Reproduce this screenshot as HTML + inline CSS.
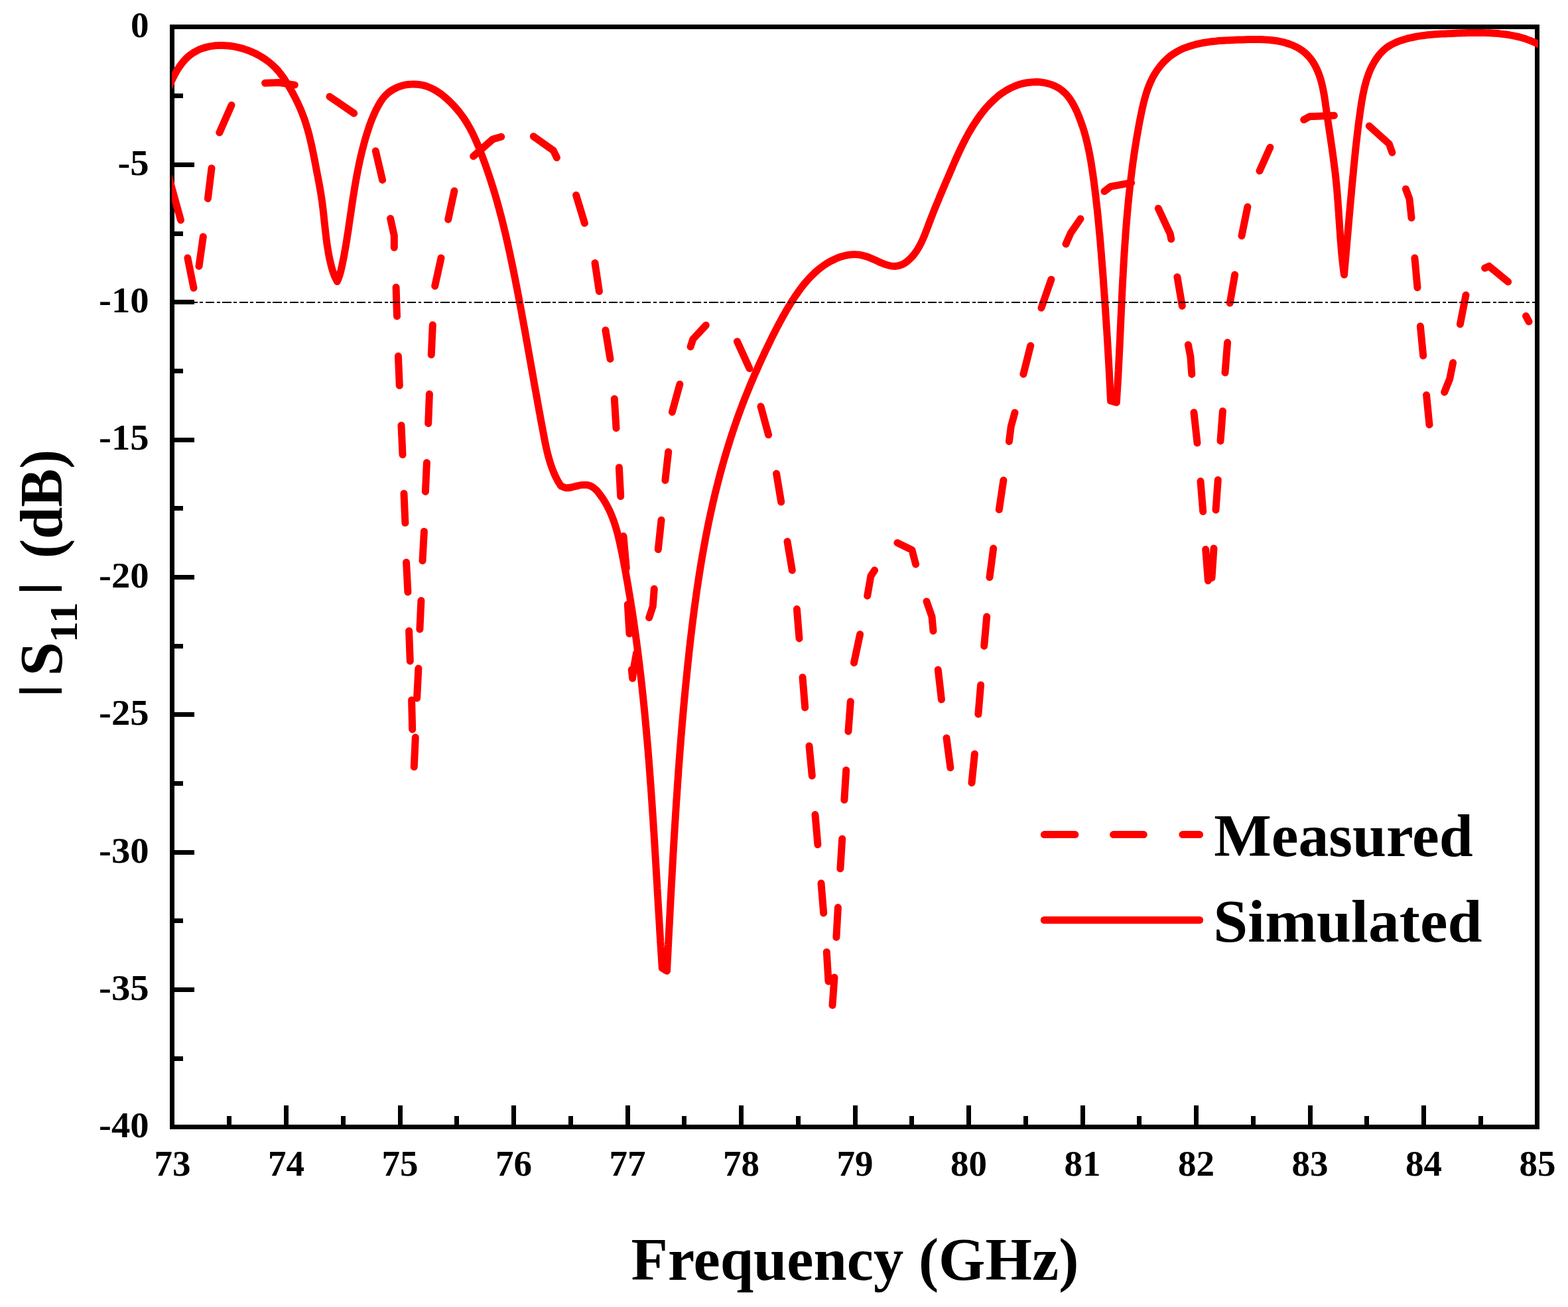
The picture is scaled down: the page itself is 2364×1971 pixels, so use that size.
<!DOCTYPE html>
<html lang="en">
<head>
<meta charset="utf-8">
<title>|S11| (dB) versus Frequency (GHz)</title>
<style>
html,body{margin:0;padding:0;background:#fff;}
body{width:2364px;height:1971px;overflow:hidden;}
svg{display:block;}
text{font-family:"Liberation Serif",serif;font-weight:bold;fill:#000;}
.tk{font-size:55px;}
.tt{font-size:90px;}
</style>
</head>
<body>
<svg xmlns="http://www.w3.org/2000/svg" width="2364" height="1971" viewBox="0 0 2364 1971">
<rect x="0" y="0" width="2364" height="1971" fill="#fff"/>
<defs><clipPath id="plotclip"><rect x="259" y="40" width="2060" height="1660"/></clipPath></defs>
<g fill="none" stroke="#000" stroke-width="7" shape-rendering="crispEdges">
<rect x="259.5" y="40.5" width="2058.0" height="1659.0"/>
<path d="M345.5,1683V1697M431.5,1667V1697M517.5,1683V1697M603.5,1667V1697M688.5,1683V1697M774.5,1667V1697M860.5,1683V1697M946.5,1667V1697M1031.5,1683V1697M1117.5,1667V1697M1203.5,1683V1697M1289.5,1667V1697M1374.5,1683V1697M1460.5,1667V1697M1546.5,1683V1697M1632.5,1667V1697M1717.5,1683V1697M1803.5,1667V1697M1889.5,1683V1697M1975.5,1667V1697M2060.5,1683V1697M2146.5,1667V1697M2232.5,1683V1697M262,144.5H276M262,248.5H293M262,352.5H276M262,455.5H293M262,559.5H276M262,663.5H293M262,766.5H276M262,870.5H293M262,974.5H276M262,1077.5H293M262,1181.5H276M262,1285.5H293M262,1388.5H276M262,1492.5H293M262,1596.5H276"/>
</g>
<g fill="none" stroke="#ff0000" stroke-width="11" stroke-linecap="round" stroke-linejoin="round">
<g clip-path="url(#plotclip)">
<path d="M250,251L272.5,331.9M282.9,389L292,434.3M300,401.4L306.3,357M313.4,299.4L319,253.7M330.9,200L349,158.6M399.5,125.2L421,124.6L444.3,128.1M497,145.7L533.7,170.9M566.3,227.7L576.6,271.4M588.6,329.5L594.3,355.2L594.3,373.3M597.1,433.3L598.5,477.1M600.4,537.1L602.3,581.5M605,641.4L607,685.7M609,744.3L610.9,788.6M612.6,848L614.9,892.9M616.6,951.4L618.3,997M620.6,1055.7L621.7,1100M624.3,1156.6L626.3,1112M628.6,1052.9L630.9,1008M632.9,949L634.9,905.7M637,845.7L639.4,801.4M641.4,741.4L643.4,697.7M645.7,638.6L647.4,594.3M650.3,535L652.3,490M655.7,431.4L665,389M675.7,330.9L684.9,288M713.7,235.7L742.9,210L755.7,206.3M804.3,205.7L834.3,227L839.4,237.7M868.6,294.3L881.4,336.6M897,396.6L903.4,439.4M912.9,498L920,541.4M926.3,601.4L929,645.7M933.4,704.9L935.7,748.6M940,808.6L944.3,857M946.3,911.4L949,955.7M952.3,1010L953.6,1023L955,1010L959.5,985M978.6,931.4L984.3,914.3L986.3,888M992.3,828.6L997,784.3M1002.9,724.3L1007.7,681.4M1013.4,621.4L1024.9,579.4M1041,522.9L1044.8,511.4L1064.3,490.4M1111.4,514.9L1130,555.7M1147,612.9L1158.6,655.7M1170.6,714.3L1177.7,757M1187,816.6L1194.3,860M1201.4,918.6L1205,962.9M1210,1021.4L1213.7,1067M1220,1124.9L1224.3,1170M1229,1228.6L1232.9,1273.7M1238,1332L1241.7,1377M1246.3,1435.7L1249,1480M1255,1516L1258,1474M1260.9,1413.4L1263.4,1368.6M1266.9,1310L1269.7,1265M1272.9,1206.3L1275.7,1161.4M1279,1102.9L1282.3,1058M1287.5,999.5L1296.6,956.6M1307.7,898.6L1312.9,868.6L1318.6,860M1352.9,818.6L1374.9,829.4L1380.6,850.9M1397,907L1405,930L1407,951.4M1414.3,1010L1419.4,1054.9M1427,1112.9L1432.9,1157.7M1465,1180.6L1469.4,1137M1474.9,1077L1478.6,1032.9M1483.7,974.3L1487.7,930M1492,870.6L1497.7,827M1506.3,768.6L1512.9,724.3M1521.4,665.7L1524.3,642.9L1530,622.3M1542.9,564.3L1553.7,521.4M1570,464.3L1584.9,421.4M1607,368L1614.3,351.4L1629,330M1665,288.6L1674.3,281.4L1705.7,275.7M1746.3,314.3L1764.3,352.9L1765.7,360.6M1774.9,417.7L1782.3,461.4M1791.4,520L1794.9,538.1L1796.8,564.4M1800,622L1805,668M1810,725.7L1813.7,771.4M1817.7,828.6L1821.4,875.7M1827,871.4L1830,827M1833,769L1836.3,723.7M1840,665L1843.4,620M1847,562L1850.6,516.6M1854.3,457L1861.7,414.3M1872,355.7L1880.9,312M1899,257.7L1914.9,222.3M1965.7,180.6L1974.3,175.7L2011.4,174.3M2064.3,190L2094.3,217L2098.9,230M2119.4,285L2125,300L2128,328.6M2132.9,389L2137,433.7M2141.4,492L2145.7,536.6M2150.6,595.7L2155,640.6M2177.7,591.4L2185.7,571.4L2190.6,547M2201.4,489L2210,445M2238.6,404.3L2245,401.4L2273.7,425M2300.6,476.6L2305,485"/>
<path d="M251,140C251.5,138.8 252.9,135.2 253.9,132.8C254.9,130.3 256,127.8 257.1,125.4C258.2,122.9 259.4,120.4 260.6,117.9C261.8,115.5 263.1,113 264.4,110.6C265.7,108.2 267.1,105.8 268.6,103.5C270.1,101.2 271.6,98.9 273.3,96.8C274.9,94.6 276.6,92.5 278.4,90.6C280.2,88.6 282.1,86.7 284.1,85C286.1,83.3 288.2,81.7 290.4,80.2C292.6,78.8 294.9,77.5 297.3,76.3C299.7,75.1 302.1,74.1 304.6,73.2C307.1,72.3 309.7,71.5 312.3,70.9C314.9,70.2 317.6,69.7 320.2,69.4C322.9,69 325.6,68.7 328.3,68.6C331,68.4 333.7,68.4 336.4,68.5C339.1,68.6 341.8,68.8 344.6,69C347.3,69.3 350,69.7 352.7,70.2C355.3,70.7 358,71.3 360.7,71.9C363.3,72.6 365.9,73.3 368.5,74.1C371.1,75 373.7,75.9 376.2,76.8C378.7,77.8 381.2,78.9 383.6,80C386,81.2 388.4,82.4 390.7,83.7C393.1,85 395.4,86.4 397.6,87.9C399.8,89.3 402,90.9 404.1,92.5C406.2,94.1 408.3,95.8 410.2,97.6C412.2,99.3 414.1,101.2 416,103.1C417.8,105 419.6,107 421.3,109.1C422.9,111.2 424.6,113.3 426.1,115.5C427.7,117.7 429.2,120 430.6,122.3C432.1,124.5 433.5,126.9 434.9,129.2C436.3,131.5 437.6,133.9 439,136.2C440.3,138.6 441.6,141 442.9,143.4C444.1,145.7 445.4,148.1 446.6,150.6C447.8,153 448.9,155.4 450,157.8C451.2,160.3 452.3,162.7 453.3,165.2C454.4,167.7 455.4,170.2 456.3,172.7C457.3,175.2 458.2,177.7 459.1,180.2C459.9,182.8 460.8,185.3 461.6,187.9C462.4,190.4 463.1,193 463.9,195.6C464.6,198.2 465.3,200.7 466,203.3C466.6,205.9 467.3,208.6 467.9,211.2C468.5,213.8 469.1,216.4 469.7,219C470.3,221.7 470.9,224.3 471.4,226.9C472,229.6 472.5,232.2 473,234.9C473.6,237.5 474.1,240.1 474.6,242.8C475.1,245.4 475.6,248.1 476.1,250.7C476.6,253.4 477.1,256 477.6,258.7C478.1,261.3 478.6,263.9 479.2,266.6C479.7,269.2 480.2,271.9 480.7,274.5C481.2,277.1 481.6,279.8 482.1,282.4C482.6,285 483,287.7 483.5,290.3C483.9,293 484.3,295.6 484.7,298.3C485.1,301 485.5,303.6 485.9,306.3C486.2,309 486.5,311.6 486.9,314.3C487.2,317 487.5,319.7 487.8,322.3C488.1,325 488.4,327.7 488.6,330.4C488.9,333.1 489.2,335.8 489.5,338.5C489.8,341.1 490.1,343.8 490.4,346.5C490.7,349.2 491,351.9 491.3,354.5C491.6,357.2 491.9,359.9 492.3,362.6C492.6,365.2 493,367.9 493.4,370.6C493.8,373.2 494.2,375.9 494.7,378.5C495.1,381.2 495.6,383.8 496.1,386.4C496.6,389.1 497.2,391.7 497.8,394.3C498.4,396.9 499,399.5 499.7,402.1C500.4,404.7 501.1,407.2 502,409.8C502.8,412.3 503.7,414.8 504.8,417.3C505.9,419.7 507.8,423.3 508.4,424.5C508.9,423.3 510.4,419.6 511.3,417.1C512.2,414.6 512.9,412 513.6,409.5C514.3,406.9 514.8,404.3 515.4,401.7C516,399.1 516.5,396.5 517,393.9C517.6,391.2 518.1,388.6 518.6,386C519.1,383.4 519.5,380.7 520,378.1C520.5,375.5 520.9,372.8 521.4,370.2C521.8,367.5 522.3,364.9 522.7,362.3C523.1,359.6 523.5,357 523.9,354.3C524.4,351.7 524.8,349 525.2,346.4C525.6,343.7 526,341.1 526.3,338.4C526.7,335.8 527.1,333.1 527.5,330.5C527.9,327.8 528.3,325.2 528.7,322.5C529.1,319.9 529.5,317.2 529.8,314.6C530.2,311.9 530.6,309.3 531,306.6C531.4,304 531.8,301.3 532.2,298.7C532.6,296 533.1,293.4 533.5,290.8C533.9,288.1 534.3,285.5 534.8,282.8C535.2,280.2 535.6,277.6 536.1,275C536.6,272.3 537,269.7 537.5,267.1C538,264.5 538.5,261.8 539,259.2C539.5,256.6 540,254 540.6,251.4C541.1,248.8 541.6,246.2 542.2,243.6C542.8,240.9 543.4,238.3 544,235.7C544.6,233.2 545.2,230.6 545.8,228C546.5,225.4 547.1,222.8 547.8,220.2C548.5,217.6 549.2,215.1 549.9,212.5C550.6,209.9 551.4,207.3 552.2,204.8C552.9,202.2 553.7,199.6 554.6,197.1C555.4,194.5 556.2,192 557.1,189.4C558,186.9 559,184.4 559.9,181.9C560.9,179.4 561.9,176.9 563,174.4C564.1,171.9 565.2,169.4 566.3,167C567.5,164.6 568.7,162.1 570.1,159.7C571.4,157.4 572.7,155 574.2,152.7C575.7,150.5 577.3,148.3 579,146.3C580.7,144.3 582.6,142.4 584.6,140.6C586.5,138.9 588.7,137.4 590.9,136C593.1,134.6 595.5,133.3 597.9,132.3C600.3,131.2 602.8,130.3 605.3,129.5C607.9,128.8 610.5,128.2 613.1,127.7C615.7,127.3 618.4,127 621.1,127C623.7,126.9 626.4,126.9 629.1,127.2C631.7,127.4 634.4,127.8 637,128.4C639.6,129 642.1,129.7 644.6,130.6C647.1,131.5 649.5,132.6 651.9,133.8C654.3,134.9 656.6,136.3 658.9,137.7C661.2,139.1 663.4,140.7 665.6,142.3C667.7,144 669.8,145.7 671.9,147.5C674,149.3 676,151.1 677.9,153C679.9,154.9 681.7,156.8 683.6,158.8C685.4,160.8 687.2,162.8 688.9,164.8C690.7,166.8 692.4,168.9 694,171C695.6,173.1 697.2,175.2 698.7,177.4C700.2,179.6 701.7,181.8 703.1,184.1C704.5,186.3 705.8,188.6 707.1,190.9C708.4,193.2 709.7,195.6 710.9,197.9C712.1,200.3 713.3,202.7 714.4,205.1C715.6,207.5 716.7,210 717.7,212.4C718.8,214.9 719.8,217.4 720.9,219.9C721.9,222.3 722.9,224.8 723.9,227.3C724.8,229.8 725.8,232.3 726.7,234.9C727.7,237.4 728.6,239.9 729.5,242.4C730.5,244.9 731.4,247.4 732.3,250C733.2,252.5 734.1,255 734.9,257.5C735.8,260.1 736.7,262.6 737.5,265.1C738.3,267.7 739.2,270.2 740,272.7C740.8,275.3 741.6,277.8 742.4,280.4C743.2,282.9 744,285.5 744.8,288C745.6,290.6 746.3,293.1 747.1,295.7C747.8,298.3 748.6,300.8 749.3,303.4C750,306 750.7,308.6 751.4,311.1C752.2,313.7 752.9,316.3 753.5,318.9C754.2,321.5 754.9,324 755.6,326.6C756.2,329.2 756.9,331.8 757.6,334.4C758.2,337 758.8,339.6 759.5,342.2C760.1,344.8 760.7,347.4 761.4,350C762,352.6 762.6,355.2 763.2,357.8C763.8,360.4 764.4,363 765,365.6C765.6,368.3 766.2,370.9 766.7,373.5C767.3,376.1 767.9,378.7 768.5,381.3C769,383.9 769.6,386.6 770.1,389.2C770.7,391.8 771.2,394.4 771.8,397C772.3,399.7 772.9,402.3 773.4,404.9C773.9,407.5 774.5,410.1 775,412.8C775.5,415.4 776.1,418 776.6,420.6C777.1,423.3 777.6,425.9 778.1,428.5C778.7,431.1 779.2,433.8 779.7,436.4C780.2,439 780.7,441.6 781.2,444.3C781.7,446.9 782.2,449.5 782.7,452.1C783.2,454.8 783.7,457.4 784.2,460C784.7,462.6 785.2,465.3 785.7,467.9C786.2,470.5 786.6,473.1 787.1,475.8C787.6,478.4 788.1,481 788.6,483.7C789.1,486.3 789.5,488.9 790,491.5C790.5,494.2 791,496.8 791.5,499.4C791.9,502.1 792.4,504.7 792.9,507.3C793.3,509.9 793.8,512.6 794.3,515.2C794.8,517.8 795.2,520.5 795.7,523.1C796.2,525.7 796.6,528.4 797.1,531C797.6,533.6 798,536.3 798.5,538.9C799,541.5 799.4,544.1 799.9,546.8C800.4,549.4 800.8,552 801.3,554.7C801.8,557.3 802.2,559.9 802.7,562.6C803.2,565.2 803.6,567.8 804.1,570.5C804.6,573.1 805,575.7 805.5,578.4C806,581 806.5,583.6 806.9,586.3C807.4,588.9 807.9,591.5 808.3,594.2C808.8,596.8 809.3,599.5 809.8,602.1C810.2,604.7 810.7,607.4 811.2,610C811.7,612.6 812.1,615.3 812.6,617.9C813.1,620.5 813.6,623.2 814.1,625.8C814.5,628.5 815,631.1 815.5,633.7C816,636.4 816.5,639 817,641.6C817.5,644.3 818,646.9 818.5,649.6C819,652.2 819.5,654.8 820,657.5C820.5,660.1 821,662.7 821.5,665.4C822,668 822.6,670.6 823.1,673.2C823.7,675.9 824.3,678.5 824.9,681.1C825.5,683.7 826.2,686.2 826.9,688.8C827.6,691.4 828.3,693.9 829.1,696.5C829.9,699 830.7,701.5 831.6,704C832.5,706.5 833.4,709 834.4,711.5C835.5,713.9 836.5,716.4 837.7,718.8C838.8,721.2 840,723.5 841.3,725.9C842.7,728.2 844.8,731.6 845.5,732.8C846.7,733.3 850.3,735.2 852.8,735.6C855.4,736 858,735.5 860.7,735.1C863.4,734.6 866.1,733.7 868.9,733.1C871.6,732.5 874.4,731.7 877.2,731.4C879.9,731.1 882.6,731 885.2,731.4C887.7,731.8 890.1,732.6 892.4,733.8C894.6,735 896.6,736.7 898.5,738.6C900.4,740.4 902.2,742.7 903.8,744.8C905.5,747 907.1,749.2 908.6,751.5C910.1,753.8 911.5,756.1 912.9,758.4C914.2,760.7 915.5,763.1 916.7,765.5C917.9,767.8 919.1,770.3 920.2,772.7C921.2,775.1 922.3,777.6 923.2,780.1C924.2,782.5 925.1,785 926,787.6C926.8,790.1 927.6,792.6 928.4,795.2C929.2,797.7 929.9,800.3 930.6,802.9C931.3,805.5 932,808.1 932.6,810.7C933.3,813.3 933.9,815.9 934.4,818.6C935,821.2 935.6,823.8 936.1,826.5C936.7,829.1 937.2,831.7 937.8,834.4C938.3,837 938.8,839.7 939.3,842.3C939.8,845 940.3,847.6 940.8,850.3C941.3,852.9 941.8,855.6 942.3,858.2C942.8,860.9 943.3,863.5 943.8,866.2C944.2,868.8 944.7,871.5 945.2,874.1C945.7,876.8 946.1,879.4 946.6,882.1C947,884.7 947.5,887.4 947.9,890.1C948.4,892.7 948.8,895.4 949.3,898C949.7,900.7 950.1,903.3 950.6,906C951,908.6 951.4,911.3 951.8,914C952.2,916.6 952.7,919.3 953.1,921.9C953.5,924.6 953.9,927.2 954.3,929.9C954.7,932.6 955.1,935.2 955.5,937.9C955.9,940.5 956.2,943.2 956.6,945.9C957,948.5 957.4,951.2 957.7,953.9C958.1,956.5 958.5,959.2 958.8,961.8C959.2,964.5 959.6,967.2 959.9,969.8C960.3,972.5 960.6,975.2 961,977.8C961.3,980.5 961.7,983.2 962,985.8C962.3,988.5 962.7,991.1 963,993.8C963.3,996.5 963.7,999.1 964,1001.8C964.3,1004.5 964.6,1007.2 964.9,1009.8C965.2,1012.5 965.6,1015.2 965.9,1017.8C966.2,1020.5 966.5,1023.2 966.8,1025.8C967.1,1028.5 967.4,1031.2 967.7,1033.8C968,1036.5 968.2,1039.2 968.5,1041.9C968.8,1044.5 969.1,1047.2 969.4,1049.9C969.7,1052.5 969.9,1055.2 970.2,1057.9C970.5,1060.6 970.8,1063.2 971,1065.9C971.3,1068.6 971.6,1071.2 971.8,1073.9C972.1,1076.6 972.3,1079.3 972.6,1081.9C972.8,1084.6 973.1,1087.3 973.3,1090C973.6,1092.6 973.8,1095.3 974.1,1098C974.3,1100.7 974.6,1103.3 974.8,1106C975,1108.7 975.3,1111.4 975.5,1114C975.7,1116.7 976,1119.4 976.2,1122.1C976.4,1124.7 976.6,1127.4 976.9,1130.1C977.1,1132.8 977.3,1135.5 977.5,1138.1C977.7,1140.8 978,1143.5 978.2,1146.2C978.4,1148.8 978.6,1151.5 978.8,1154.2C979,1156.9 979.2,1159.6 979.4,1162.2C979.6,1164.9 979.8,1167.6 980,1170.3C980.2,1173 980.4,1175.6 980.6,1178.3C980.8,1181 981,1183.7 981.2,1186.4C981.4,1189 981.6,1191.7 981.8,1194.4C982,1197.1 982.2,1199.8 982.3,1202.4C982.5,1205.1 982.7,1207.8 982.9,1210.5C983.1,1213.2 983.3,1215.8 983.4,1218.5C983.6,1221.2 983.8,1223.9 984,1226.6C984.2,1229.3 984.3,1231.9 984.5,1234.6C984.7,1237.3 984.9,1240 985,1242.7C985.2,1245.4 985.4,1248 985.5,1250.7C985.7,1253.4 985.9,1256.1 986.1,1258.8C986.2,1261.4 986.4,1264.1 986.6,1266.8C986.7,1269.5 986.9,1272.2 987.1,1274.9C987.2,1277.5 987.4,1280.2 987.5,1282.9C987.7,1285.6 987.9,1288.3 988,1291C988.2,1293.6 988.4,1296.3 988.5,1299C988.7,1301.7 988.8,1304.4 989,1307.1C989.2,1309.7 989.3,1312.4 989.5,1315.1C989.6,1317.8 989.8,1320.5 990,1323.2C990.1,1325.8 990.3,1328.5 990.4,1331.2C990.6,1333.9 990.8,1336.6 990.9,1339.3C991.1,1341.9 991.2,1344.6 991.4,1347.3C991.5,1350 991.7,1352.7 991.9,1355.4C992,1358 992.2,1360.7 992.3,1363.4C992.5,1366.1 992.7,1368.8 992.8,1371.5C993,1374.2 993.1,1376.8 993.3,1379.5C993.5,1382.2 993.6,1384.9 993.8,1387.6C993.9,1390.3 994.1,1392.9 994.3,1395.6C994.4,1398.3 994.6,1401 994.7,1403.7C994.9,1406.4 995.1,1409 995.2,1411.7C995.4,1414.4 995.6,1417.1 995.7,1419.8C995.9,1422.4 996.1,1425.1 996.2,1427.8C996.4,1430.5 996.6,1433.2 996.7,1435.9C996.9,1438.5 997.1,1441.2 997.3,1443.9C997.4,1446.6 997.6,1449.3 997.8,1452C997.9,1454.6 998.2,1458.7 998.3,1460L1005.5,1464.3C1005.6,1463 1005.8,1459 1005.9,1456.3C1006.1,1453.6 1006.2,1451 1006.3,1448.3C1006.5,1445.6 1006.6,1443 1006.8,1440.3C1006.9,1437.6 1007,1434.9 1007.2,1432.3C1007.3,1429.6 1007.4,1426.9 1007.6,1424.3C1007.7,1421.6 1007.9,1418.9 1008,1416.3C1008.1,1413.6 1008.3,1410.9 1008.4,1408.3C1008.6,1405.6 1008.7,1402.9 1008.8,1400.3C1009,1397.6 1009.1,1394.9 1009.3,1392.2C1009.4,1389.6 1009.5,1386.9 1009.7,1384.2C1009.8,1381.6 1010,1378.9 1010.1,1376.2C1010.2,1373.6 1010.4,1370.9 1010.5,1368.2C1010.7,1365.6 1010.8,1362.9 1010.9,1360.2C1011.1,1357.5 1011.2,1354.9 1011.4,1352.2C1011.5,1349.5 1011.7,1346.9 1011.8,1344.2C1011.9,1341.5 1012.1,1338.9 1012.2,1336.2C1012.4,1333.5 1012.5,1330.9 1012.7,1328.2C1012.8,1325.5 1013,1322.9 1013.1,1320.2C1013.3,1317.5 1013.4,1314.9 1013.6,1312.2C1013.7,1309.5 1013.9,1306.8 1014,1304.2C1014.2,1301.5 1014.3,1298.8 1014.5,1296.2C1014.6,1293.5 1014.8,1290.8 1014.9,1288.2C1015.1,1285.5 1015.2,1282.8 1015.4,1280.2C1015.5,1277.5 1015.7,1274.8 1015.8,1272.2C1016,1269.5 1016.2,1266.8 1016.3,1264.2C1016.5,1261.5 1016.6,1258.8 1016.8,1256.2C1017,1253.5 1017.1,1250.8 1017.3,1248.2C1017.4,1245.5 1017.6,1242.8 1017.8,1240.1C1017.9,1237.5 1018.1,1234.8 1018.3,1232.1C1018.4,1229.5 1018.6,1226.8 1018.8,1224.1C1019,1221.5 1019.1,1218.8 1019.3,1216.1C1019.5,1213.5 1019.6,1210.8 1019.8,1208.1C1020,1205.5 1020.2,1202.8 1020.4,1200.1C1020.5,1197.5 1020.7,1194.8 1020.9,1192.1C1021.1,1189.5 1021.3,1186.8 1021.4,1184.2C1021.6,1181.5 1021.8,1178.8 1022,1176.2C1022.2,1173.5 1022.4,1170.8 1022.6,1168.2C1022.8,1165.5 1022.9,1162.8 1023.1,1160.2C1023.3,1157.5 1023.5,1154.8 1023.7,1152.2C1023.9,1149.5 1024.1,1146.8 1024.3,1144.2C1024.5,1141.5 1024.7,1138.8 1024.9,1136.2C1025.1,1133.5 1025.3,1130.9 1025.5,1128.2C1025.8,1125.5 1026,1122.9 1026.2,1120.2C1026.4,1117.5 1026.6,1114.9 1026.8,1112.2C1027,1109.5 1027.2,1106.9 1027.5,1104.2C1027.7,1101.6 1027.9,1098.9 1028.1,1096.2C1028.4,1093.6 1028.6,1090.9 1028.8,1088.2C1029,1085.6 1029.3,1082.9 1029.5,1080.3C1029.7,1077.6 1030,1074.9 1030.2,1072.3C1030.4,1069.6 1030.7,1066.9 1030.9,1064.3C1031.2,1061.6 1031.4,1059 1031.6,1056.3C1031.9,1053.6 1032.1,1051 1032.4,1048.3C1032.6,1045.7 1032.9,1043 1033.1,1040.3C1033.4,1037.7 1033.6,1035 1033.9,1032.4C1034.2,1029.7 1034.4,1027 1034.7,1024.4C1035,1021.7 1035.2,1019.1 1035.5,1016.4C1035.8,1013.7 1036,1011.1 1036.3,1008.4C1036.6,1005.8 1036.9,1003.1 1037.1,1000.5C1037.4,997.8 1037.7,995.1 1038,992.5C1038.3,989.8 1038.6,987.2 1038.8,984.5C1039.1,981.9 1039.4,979.2 1039.7,976.5C1040,973.9 1040.3,971.2 1040.6,968.6C1040.9,965.9 1041.2,963.3 1041.5,960.6C1041.8,957.9 1042.2,955.3 1042.5,952.6C1042.8,950 1043.1,947.3 1043.4,944.7C1043.8,942 1044.1,939.4 1044.4,936.7C1044.7,934.1 1045.1,931.4 1045.4,928.8C1045.8,926.1 1046.1,923.5 1046.4,920.8C1046.8,918.2 1047.1,915.5 1047.5,912.9C1047.9,910.2 1048.2,907.6 1048.6,904.9C1049,902.3 1049.3,899.6 1049.7,897C1050.1,894.3 1050.4,891.7 1050.8,889C1051.2,886.4 1051.6,883.8 1052,881.1C1052.4,878.5 1052.8,875.8 1053.2,873.2C1053.6,870.5 1054,867.9 1054.4,865.3C1054.8,862.6 1055.3,860 1055.7,857.4C1056.1,854.7 1056.6,852.1 1057,849.4C1057.4,846.8 1057.9,844.2 1058.3,841.5C1058.8,838.9 1059.2,836.3 1059.7,833.7C1060.2,831 1060.6,828.4 1061.1,825.8C1061.6,823.1 1062.1,820.5 1062.6,817.9C1063,815.3 1063.5,812.6 1064,810C1064.5,807.4 1065.1,804.8 1065.6,802.1C1066.1,799.5 1066.6,796.9 1067.1,794.3C1067.7,791.7 1068.2,789 1068.7,786.4C1069.3,783.8 1069.8,781.2 1070.4,778.6C1071,776 1071.5,773.4 1072.1,770.8C1072.7,768.1 1073.3,765.5 1073.9,762.9C1074.4,760.3 1075,757.7 1075.6,755.1C1076.3,752.5 1076.9,749.9 1077.5,747.3C1078.1,744.7 1078.7,742.1 1079.4,739.5C1080,736.9 1080.7,734.3 1081.3,731.7C1082,729.1 1082.6,726.5 1083.3,724C1084,721.4 1084.7,718.8 1085.3,716.2C1086,713.6 1086.7,711 1087.4,708.5C1088.1,705.9 1088.9,703.3 1089.6,700.7C1090.3,698.2 1091,695.6 1091.8,693C1092.5,690.4 1093.3,687.9 1094,685.3C1094.8,682.8 1095.6,680.2 1096.3,677.6C1097.1,675.1 1097.9,672.5 1098.7,670C1099.5,667.4 1100.3,664.9 1101.1,662.3C1101.9,659.8 1102.7,657.2 1103.6,654.7C1104.4,652.2 1105.3,649.6 1106.1,647.1C1107,644.6 1107.8,642 1108.7,639.5C1109.6,637 1110.4,634.5 1111.3,631.9C1112.2,629.4 1113.1,626.9 1114,624.4C1115,621.9 1115.9,619.4 1116.8,616.9C1117.7,614.4 1118.7,611.9 1119.6,609.4C1120.6,606.9 1121.6,604.4 1122.5,601.9C1123.5,599.4 1124.5,596.9 1125.5,594.5C1126.5,592 1127.5,589.5 1128.5,587C1129.5,584.6 1130.5,582.1 1131.5,579.6C1132.6,577.2 1133.6,574.7 1134.7,572.2C1135.7,569.8 1136.8,567.3 1137.8,564.9C1138.9,562.4 1140,560 1141.1,557.6C1142.1,555.1 1143.2,552.7 1144.3,550.2C1145.4,547.8 1146.5,545.4 1147.7,542.9C1148.8,540.5 1149.9,538.1 1151,535.7C1152.2,533.2 1153.3,530.8 1154.4,528.4C1155.6,526 1156.7,523.6 1157.9,521.2C1159.1,518.8 1160.2,516.4 1161.4,514C1162.6,511.5 1163.7,509.2 1164.9,506.8C1166.1,504.4 1167.3,502 1168.6,499.6C1169.8,497.2 1171,494.8 1172.2,492.5C1173.5,490.1 1174.7,487.7 1176,485.4C1177.3,483 1178.5,480.7 1179.8,478.3C1181.1,476 1182.5,473.7 1183.8,471.4C1185.1,469 1186.5,466.7 1187.8,464.4C1189.2,462.1 1190.6,459.9 1192,457.6C1193.4,455.3 1194.9,453 1196.3,450.8C1197.8,448.5 1199.2,446.3 1200.8,444.1C1202.3,441.9 1203.8,439.7 1205.4,437.5C1207,435.4 1208.6,433.2 1210.2,431.1C1211.8,429 1213.5,427 1215.3,425C1217,422.9 1218.7,421 1220.6,419C1222.4,417.1 1224.2,415.2 1226.1,413.4C1228.1,411.5 1230,409.7 1232,408C1234.1,406.3 1236.1,404.6 1238.3,403C1240.4,401.4 1242.6,399.9 1244.9,398.4C1247.1,396.9 1249.5,395.5 1251.9,394.2C1254.2,392.9 1256.7,391.7 1259.2,390.6C1261.7,389.4 1264.2,388.4 1266.8,387.5C1269.4,386.6 1272,385.9 1274.6,385.3C1277.2,384.7 1279.8,384.2 1282.4,384C1285,383.7 1287.6,383.6 1290.2,383.8C1292.7,383.9 1295.3,384.2 1297.8,384.7C1300.4,385.2 1302.9,385.9 1305.4,386.6C1307.9,387.4 1310.4,388.3 1312.9,389.3C1315.4,390.3 1317.9,391.5 1320.5,392.6C1323,393.7 1325.5,395 1328.1,396.1C1330.7,397.2 1333.2,398.3 1335.8,399.1C1338.4,400 1341,400.7 1343.6,401.1C1346.2,401.5 1348.9,401.6 1351.4,401.3C1354,401.1 1356.5,400.4 1358.9,399.4C1361.3,398.5 1363.6,397.1 1365.8,395.6C1368,394.1 1370,392.3 1371.9,390.4C1373.9,388.6 1375.6,386.6 1377.3,384.6C1379,382.6 1380.5,380.4 1382,378.2C1383.5,376 1384.8,373.7 1386.1,371.4C1387.4,369.1 1388.6,366.7 1389.7,364.3C1390.9,361.8 1391.9,359.4 1393,356.9C1394,354.4 1395,351.8 1396,349.3C1397,346.8 1397.9,344.2 1398.9,341.7C1399.9,339.1 1400.8,336.6 1401.8,334.1C1402.7,331.5 1403.7,329 1404.7,326.5C1405.7,324 1406.7,321.5 1407.6,319C1408.6,316.5 1409.6,314.1 1410.6,311.6C1411.6,309.1 1412.7,306.7 1413.7,304.2C1414.7,301.7 1415.7,299.3 1416.7,296.8C1417.7,294.4 1418.8,291.9 1419.8,289.5C1420.8,287.1 1421.9,284.6 1422.9,282.2C1423.9,279.7 1425,277.3 1426,274.8C1427.1,272.4 1428.1,270 1429.2,267.5C1430.2,265.1 1431.3,262.6 1432.3,260.2C1433.4,257.7 1434.4,255.3 1435.5,252.8C1436.5,250.4 1437.6,247.9 1438.7,245.4C1439.7,243 1440.8,240.5 1441.9,238.1C1443,235.7 1444.1,233.2 1445.3,230.8C1446.4,228.3 1447.5,225.9 1448.7,223.5C1449.8,221.1 1451,218.7 1452.2,216.3C1453.4,213.9 1454.6,211.5 1455.9,209.1C1457.1,206.8 1458.4,204.4 1459.7,202.1C1461,199.8 1462.3,197.4 1463.7,195.1C1465.1,192.8 1466.4,190.6 1467.9,188.3C1469.3,186 1470.8,183.8 1472.3,181.6C1473.8,179.4 1475.3,177.2 1476.9,175C1478.5,172.9 1480.1,170.7 1481.8,168.6C1483.4,166.5 1485.1,164.5 1486.9,162.4C1488.7,160.4 1490.5,158.4 1492.3,156.5C1494.2,154.6 1496.1,152.7 1498,150.9C1500,149.1 1502,147.3 1504,145.6C1506.1,143.9 1508.2,142.3 1510.3,140.8C1512.5,139.3 1514.7,137.8 1517,136.4C1519.3,135.1 1521.6,133.8 1524,132.6C1526.4,131.5 1528.8,130.4 1531.3,129.4C1533.8,128.4 1536.4,127.6 1538.9,126.8C1541.5,126.1 1544.1,125.5 1546.8,125C1549.4,124.5 1552.1,124.1 1554.7,123.9C1557.4,123.7 1560.1,123.6 1562.8,123.6C1565.5,123.7 1568.2,123.8 1570.9,124.2C1573.6,124.5 1576.3,125 1578.9,125.7C1581.5,126.4 1584.1,127.2 1586.6,128.1C1589.2,129.1 1591.6,130.2 1593.9,131.5C1596.2,132.8 1598.5,134.2 1600.5,135.8C1602.6,137.4 1604.5,139.2 1606.4,141C1608.2,142.9 1609.9,144.9 1611.5,147C1613,149.1 1614.5,151.3 1615.9,153.6C1617.3,155.9 1618.6,158.2 1619.8,160.6C1621.1,163 1622.2,165.5 1623.4,167.9C1624.5,170.4 1625.5,172.9 1626.5,175.4C1627.5,177.9 1628.5,180.4 1629.4,183C1630.3,185.5 1631.2,188 1632.1,190.6C1632.9,193.1 1633.7,195.7 1634.5,198.2C1635.2,200.8 1636,203.4 1636.7,205.9C1637.3,208.5 1638,211.1 1638.6,213.7C1639.3,216.3 1639.9,218.9 1640.4,221.5C1641,224.1 1641.6,226.7 1642.1,229.3C1642.6,231.9 1643.1,234.6 1643.6,237.2C1644.1,239.8 1644.5,242.4 1645,245.1C1645.4,247.7 1645.8,250.4 1646.2,253C1646.6,255.6 1647,258.3 1647.4,260.9C1647.8,263.6 1648.2,266.2 1648.5,268.9C1648.9,271.5 1649.3,274.2 1649.6,276.8C1649.9,279.5 1650.3,282.1 1650.6,284.8C1651,287.4 1651.3,290.1 1651.6,292.7C1651.9,295.4 1652.2,298 1652.5,300.7C1652.8,303.3 1653.1,306 1653.4,308.7C1653.7,311.3 1654,314 1654.3,316.6C1654.6,319.3 1654.9,321.9 1655.1,324.6C1655.4,327.3 1655.7,329.9 1655.9,332.6C1656.2,335.2 1656.4,337.9 1656.7,340.6C1656.9,343.2 1657.2,345.9 1657.4,348.5C1657.7,351.2 1657.9,353.9 1658.2,356.5C1658.4,359.2 1658.6,361.8 1658.9,364.5C1659.1,367.2 1659.3,369.8 1659.5,372.5C1659.7,375.2 1660,377.8 1660.2,380.5C1660.4,383.2 1660.6,385.8 1660.8,388.5C1661,391.1 1661.2,393.8 1661.4,396.5C1661.7,399.1 1661.9,401.8 1662.1,404.5C1662.3,407.1 1662.5,409.8 1662.7,412.5C1662.9,415.1 1663.1,417.8 1663.3,420.5C1663.5,423.1 1663.7,425.8 1663.8,428.5C1664,431.1 1664.2,433.8 1664.4,436.5C1664.6,439.1 1664.8,441.8 1665,444.4C1665.2,447.1 1665.4,449.8 1665.6,452.4C1665.7,455.1 1665.9,457.8 1666.1,460.4C1666.3,463.1 1666.5,465.8 1666.7,468.4C1666.8,471.1 1667,473.8 1667.2,476.4C1667.4,479.1 1667.6,481.8 1667.7,484.4C1667.9,487.1 1668.1,489.8 1668.2,492.4C1668.4,495.1 1668.6,497.8 1668.8,500.4C1668.9,503.1 1669.1,505.8 1669.3,508.4C1669.4,511.1 1669.6,513.8 1669.8,516.4C1669.9,519.1 1670.1,521.8 1670.2,524.4C1670.4,527.1 1670.6,529.8 1670.7,532.4C1670.9,535.1 1671,537.8 1671.2,540.4C1671.3,543.1 1671.5,545.8 1671.6,548.4C1671.8,551.1 1671.9,553.8 1672.1,556.5C1672.2,559.1 1672.4,561.8 1672.5,564.5C1672.6,567.1 1672.8,569.8 1672.9,572.5C1673.1,575.1 1673.2,577.8 1673.3,580.5C1673.5,583.1 1673.6,585.8 1673.7,588.5C1673.9,591.2 1674,593.8 1674.1,596.5C1674.3,599.2 1674.4,603.2 1674.5,604.5L1683.3,607C1683.4,605.7 1683.7,601.7 1683.8,599C1684,596.3 1684.2,593.6 1684.3,590.9C1684.5,588.3 1684.7,585.6 1684.8,582.9C1685,580.2 1685.1,577.6 1685.3,574.9C1685.5,572.2 1685.6,569.5 1685.8,566.9C1685.9,564.2 1686,561.5 1686.2,558.8C1686.3,556.2 1686.5,553.5 1686.6,550.8C1686.7,548.1 1686.9,545.5 1687,542.8C1687.2,540.1 1687.3,537.4 1687.4,534.7C1687.6,532.1 1687.7,529.4 1687.8,526.7C1687.9,524 1688.1,521.4 1688.2,518.7C1688.3,516 1688.4,513.3 1688.6,510.6C1688.7,508 1688.8,505.3 1688.9,502.6C1689.1,499.9 1689.2,497.3 1689.3,494.6C1689.4,491.9 1689.6,489.2 1689.7,486.5C1689.8,483.9 1689.9,481.2 1690,478.5C1690.2,475.8 1690.3,473.2 1690.4,470.5C1690.5,467.8 1690.7,465.1 1690.8,462.5C1690.9,459.8 1691,457.1 1691.2,454.4C1691.3,451.7 1691.4,449.1 1691.5,446.4C1691.7,443.7 1691.8,441 1691.9,438.4C1692.1,435.7 1692.2,433 1692.3,430.3C1692.5,427.7 1692.6,425 1692.7,422.3C1692.9,419.6 1693,417 1693.2,414.3C1693.3,411.6 1693.5,408.9 1693.6,406.3C1693.8,403.6 1693.9,400.9 1694.1,398.2C1694.2,395.6 1694.4,392.9 1694.5,390.2C1694.7,387.5 1694.9,384.9 1695,382.2C1695.2,379.5 1695.4,376.9 1695.6,374.2C1695.7,371.5 1695.9,368.8 1696.1,366.2C1696.3,363.5 1696.5,360.8 1696.7,358.2C1696.8,355.5 1697,352.8 1697.2,350.1C1697.4,347.5 1697.6,344.8 1697.9,342.1C1698.1,339.5 1698.3,336.8 1698.5,334.1C1698.7,331.5 1698.9,328.8 1699.2,326.1C1699.4,323.5 1699.6,320.8 1699.9,318.1C1700.1,315.5 1700.4,312.8 1700.6,310.1C1700.9,307.5 1701.1,304.8 1701.4,302.1C1701.7,299.5 1701.9,296.8 1702.2,294.1C1702.5,291.5 1702.8,288.8 1703.1,286.2C1703.3,283.5 1703.6,280.8 1703.9,278.2C1704.3,275.5 1704.6,272.8 1704.9,270.2C1705.2,267.5 1705.5,264.9 1705.9,262.2C1706.2,259.5 1706.5,256.9 1706.9,254.2C1707.2,251.6 1707.6,248.9 1707.9,246.3C1708.3,243.6 1708.7,240.9 1709.1,238.3C1709.4,235.6 1709.8,233 1710.2,230.3C1710.6,227.7 1711,225 1711.4,222.4C1711.9,219.7 1712.3,217.1 1712.7,214.4C1713.1,211.8 1713.6,209.1 1714,206.5C1714.5,203.8 1714.9,201.2 1715.4,198.5C1715.9,195.9 1716.4,193.2 1716.8,190.6C1717.3,187.9 1717.8,185.3 1718.3,182.6C1718.8,180 1719.4,177.3 1719.9,174.7C1720.4,172.1 1721,169.4 1721.5,166.8C1722.1,164.1 1722.7,161.5 1723.3,158.9C1723.9,156.3 1724.5,153.7 1725.2,151.1C1725.9,148.5 1726.6,145.9 1727.4,143.3C1728.1,140.8 1729,138.2 1729.8,135.7C1730.7,133.2 1731.6,130.7 1732.6,128.3C1733.6,125.8 1734.7,123.4 1735.9,121C1737,118.6 1738.2,116.2 1739.5,113.9C1740.9,111.6 1742.3,109.3 1743.7,107.1C1745.2,104.8 1746.8,102.7 1748.5,100.6C1750.1,98.4 1751.9,96.4 1753.7,94.4C1755.5,92.5 1757.4,90.6 1759.4,88.8C1761.4,87 1763.4,85.3 1765.5,83.7C1767.7,82.1 1769.9,80.6 1772.2,79.2C1774.4,77.8 1776.8,76.6 1779.2,75.4C1781.6,74.2 1784,73.1 1786.5,72.2C1789,71.2 1791.6,70.3 1794.2,69.5C1796.7,68.6 1799.3,67.9 1802,67.2C1804.6,66.6 1807.2,66 1809.9,65.4C1812.5,64.9 1815.2,64.4 1817.9,64C1820.5,63.6 1823.2,63.2 1825.8,62.8C1828.5,62.5 1831.1,62.2 1833.8,62C1836.4,61.7 1839.1,61.5 1841.7,61.3C1844.4,61.1 1847,60.9 1849.7,60.8C1852.3,60.6 1855,60.5 1857.7,60.4C1860.3,60.3 1863,60.2 1865.7,60.1C1868.4,60 1871,59.9 1873.7,59.9C1876.4,59.8 1879.1,59.7 1881.8,59.6C1884.5,59.6 1887.2,59.5 1889.9,59.5C1892.6,59.5 1895.3,59.5 1898,59.5C1900.7,59.6 1903.4,59.6 1906.1,59.8C1908.8,59.9 1911.5,60.1 1914.2,60.3C1916.9,60.6 1919.6,60.9 1922.3,61.2C1924.9,61.6 1927.6,62.1 1930.2,62.6C1932.9,63.2 1935.5,63.8 1938.1,64.6C1940.7,65.3 1943.3,66.1 1945.8,67.1C1948.3,68 1950.8,69.1 1953.2,70.3C1955.6,71.4 1957.9,72.7 1960.1,74.1C1962.3,75.5 1964.5,77 1966.5,78.7C1968.5,80.4 1970.4,82.2 1972.2,84.1C1973.9,86 1975.6,88 1977.1,90.2C1978.7,92.3 1980.1,94.5 1981.5,96.8C1982.8,99.1 1984,101.5 1985.2,104C1986.3,106.4 1987.3,108.9 1988.3,111.4C1989.2,113.9 1990.1,116.4 1990.9,119C1991.6,121.6 1992.3,124.2 1993,126.8C1993.6,129.4 1994.2,132 1994.7,134.7C1995.3,137.3 1995.8,140 1996.2,142.6C1996.7,145.3 1997.1,148 1997.5,150.6C1997.9,153.3 1998.3,156 1998.6,158.7C1999,161.3 1999.4,164 1999.8,166.7C2000.2,169.4 2000.6,172 2000.9,174.7C2001.3,177.4 2001.7,180 2002.1,182.7C2002.5,185.4 2002.9,188 2003.3,190.7C2003.7,193.3 2004.1,196 2004.5,198.6C2004.9,201.3 2005.3,203.9 2005.7,206.6C2006.1,209.2 2006.4,211.9 2006.8,214.5C2007.2,217.2 2007.6,219.8 2008,222.5C2008.4,225.1 2008.7,227.7 2009.1,230.4C2009.5,233 2009.8,235.7 2010.2,238.3C2010.5,241 2010.9,243.6 2011.2,246.3C2011.6,248.9 2011.9,251.5 2012.2,254.2C2012.6,256.8 2012.9,259.5 2013.2,262.1C2013.5,264.8 2013.8,267.5 2014.1,270.1C2014.3,272.8 2014.6,275.4 2014.9,278.1C2015.1,280.8 2015.4,283.4 2015.6,286.1C2015.9,288.8 2016.1,291.4 2016.3,294.1C2016.5,296.8 2016.7,299.4 2016.9,302.1C2017.1,304.8 2017.3,307.5 2017.5,310.1C2017.7,312.8 2017.9,315.5 2018.1,318.2C2018.3,320.9 2018.5,323.5 2018.6,326.2C2018.8,328.9 2019,331.6 2019.2,334.3C2019.4,337 2019.5,339.6 2019.7,342.3C2019.9,345 2020.1,347.7 2020.3,350.4C2020.5,353 2020.6,355.7 2020.8,358.4C2021,361.1 2021.2,363.8 2021.5,366.4C2021.7,369.1 2021.9,371.8 2022.1,374.4C2022.3,377.1 2022.6,379.8 2022.8,382.5C2023.1,385.1 2023.3,387.8 2023.6,390.4C2023.9,393.1 2024.2,395.8 2024.5,398.4C2024.8,401.1 2025.1,403.7 2025.4,406.4C2025.8,409 2026.3,413 2026.5,414.3C2026.6,413 2027,409 2027.2,406.4C2027.5,403.7 2027.7,401.1 2027.9,398.4C2028.2,395.7 2028.4,393.1 2028.6,390.4C2028.9,387.8 2029.1,385.1 2029.3,382.5C2029.6,379.8 2029.8,377.1 2030,374.5C2030.3,371.8 2030.5,369.1 2030.7,366.5C2031,363.8 2031.2,361.1 2031.4,358.5C2031.7,355.8 2031.9,353.1 2032.1,350.5C2032.3,347.8 2032.6,345.1 2032.8,342.5C2033,339.8 2033.3,337.1 2033.5,334.5C2033.7,331.8 2034,329.1 2034.2,326.4C2034.4,323.8 2034.7,321.1 2034.9,318.4C2035.2,315.8 2035.4,313.1 2035.6,310.4C2035.9,307.8 2036.1,305.1 2036.3,302.4C2036.6,299.7 2036.8,297.1 2037.1,294.4C2037.3,291.7 2037.6,289.1 2037.8,286.4C2038,283.7 2038.3,281.1 2038.5,278.4C2038.8,275.8 2039,273.1 2039.3,270.4C2039.5,267.8 2039.8,265.1 2040.1,262.5C2040.3,259.8 2040.6,257.1 2040.8,254.5C2041.1,251.8 2041.3,249.2 2041.6,246.5C2041.9,243.9 2042.1,241.2 2042.4,238.6C2042.7,235.9 2042.9,233.3 2043.2,230.7C2043.5,228 2043.8,225.4 2044,222.7C2044.3,220.1 2044.6,217.5 2044.9,214.8C2045.2,212.2 2045.5,209.5 2045.8,206.9C2046.1,204.3 2046.4,201.6 2046.7,199C2047,196.3 2047.4,193.7 2047.7,191C2048,188.4 2048.4,185.7 2048.7,183.1C2049.1,180.4 2049.4,177.8 2049.8,175.1C2050.2,172.5 2050.5,169.8 2050.9,167.1C2051.3,164.5 2051.7,161.8 2052.1,159.1C2052.5,156.4 2052.9,153.8 2053.4,151.1C2053.9,148.4 2054.3,145.7 2054.8,143.1C2055.4,140.4 2055.9,137.8 2056.5,135.1C2057.1,132.5 2057.7,129.9 2058.4,127.3C2059.1,124.7 2059.8,122.1 2060.6,119.5C2061.4,117 2062.3,114.5 2063.2,112C2064.1,109.5 2065.1,107 2066.2,104.6C2067.3,102.2 2068.5,99.8 2069.7,97.5C2071,95.1 2072.3,92.8 2073.7,90.6C2075.2,88.4 2076.7,86.2 2078.3,84.1C2079.9,82 2081.7,80 2083.5,78.1C2085.4,76.2 2087.3,74.5 2089.4,72.8C2091.4,71.2 2093.6,69.7 2095.9,68.4C2098.2,67 2100.5,65.8 2103,64.7C2105.4,63.6 2107.9,62.6 2110.4,61.7C2113,60.8 2115.5,60 2118.1,59.2C2120.7,58.5 2123.3,57.8 2125.9,57.2C2128.5,56.5 2131.1,56 2133.7,55.5C2136.3,55 2139,54.5 2141.6,54.1C2144.2,53.7 2146.9,53.4 2149.5,53.1C2152.1,52.7 2154.8,52.5 2157.5,52.2C2160.1,52 2162.8,51.8 2165.5,51.6C2168.1,51.4 2170.8,51.3 2173.5,51.1C2176.2,51 2178.8,50.9 2181.5,50.7C2184.2,50.6 2186.9,50.5 2189.6,50.4C2192.3,50.3 2195,50.2 2197.7,50.1C2200.4,50 2203,49.9 2205.7,49.8C2208.4,49.8 2211.1,49.7 2213.8,49.6C2216.5,49.5 2219.2,49.5 2221.9,49.4C2224.6,49.4 2227.3,49.4 2230,49.4C2232.6,49.4 2235.3,49.4 2238,49.5C2240.7,49.5 2243.3,49.6 2246,49.7C2248.7,49.8 2251.3,50 2254,50.2C2256.6,50.4 2259.3,50.6 2261.9,50.9C2264.5,51.1 2267.2,51.5 2269.8,51.8C2272.4,52.2 2275,52.6 2277.6,53.1C2280.2,53.5 2282.8,54 2285.3,54.6C2287.9,55.2 2290.5,55.8 2293,56.5C2295.5,57.2 2298.1,58 2300.6,58.8C2303.1,59.7 2305.6,60.6 2308.1,61.6C2310.6,62.5 2313.1,63.6 2315.5,64.7C2318,65.9 2320.4,67.1 2322.8,68.4C2325.2,69.7 2328.8,71.8 2330,72.5" stroke-linecap="butt"/>
</g>
<path d="M1574.3,1258.6H1620.9M1678.6,1258.6H1724.3M1782.9,1258.6H1808.6"/>
<path d="M1574.3,1387.5H1808.6"/>
</g>
<line x1="293" y1="455.8" x2="2314" y2="455.8" stroke="#000" stroke-width="2" stroke-dasharray="13.3 3.5 4.8 3.715" stroke-dashoffset="8.315" shape-rendering="crispEdges"/>
<g class="tk" text-anchor="end">
<text x="224.6" y="56.2">0</text>
<text transform="translate(224.6,263.6) scale(1.03,1)">-5</text>
<text transform="translate(224.6,470.9) scale(1.03,1)">-10</text>
<text transform="translate(224.6,678.3) scale(1.03,1)">-15</text>
<text transform="translate(224.6,885.7) scale(1.03,1)">-20</text>
<text transform="translate(224.6,1093.1) scale(1.03,1)">-25</text>
<text transform="translate(224.6,1300.5) scale(1.03,1)">-30</text>
<text transform="translate(224.6,1507.8) scale(1.03,1)">-35</text>
<text transform="translate(224.6,1715.2) scale(1.03,1)">-40</text>
</g>
<g class="tk" text-anchor="middle">
<text x="260" y="1773">73</text>
<text x="431.5" y="1773">74</text>
<text x="603" y="1773">75</text>
<text x="774.5" y="1773">76</text>
<text x="946" y="1773">77</text>
<text x="1117.5" y="1773">78</text>
<text x="1289" y="1773">79</text>
<text x="1460.5" y="1773">80</text>
<text x="1632" y="1773">81</text>
<text x="1803.5" y="1773">82</text>
<text x="1975" y="1773">83</text>
<text x="2146.5" y="1773">84</text>
<text x="2318" y="1773">85</text>
</g>
<g class="tt">
<text transform="translate(951.6,1929.7) scale(1.006,1)">Frequency (GHz)</text>
<text transform="translate(1830.2,1291.4) scale(1.019,1)">Measured</text>
<text transform="translate(1829.2,1420) scale(1.039,1)">Simulated</text>
<g transform="translate(93,1045) rotate(-90)">
<text transform="translate(-8,-14.7) scale(1.47,1)" style="font-size:69.8px">|</text>
<text transform="translate(25.5,0) scale(1.03,1)">S</text>
<text transform="translate(75.8,23) scale(1.087,1)" style="font-size:59.7px">11</text>
<text transform="translate(146.2,-14.7) scale(1.47,1)" style="font-size:69.8px">|</text>
<text transform="translate(203,0) scale(0.965,1)">(dB)</text>
</g>
</g>
</svg>
</body>
</html>
